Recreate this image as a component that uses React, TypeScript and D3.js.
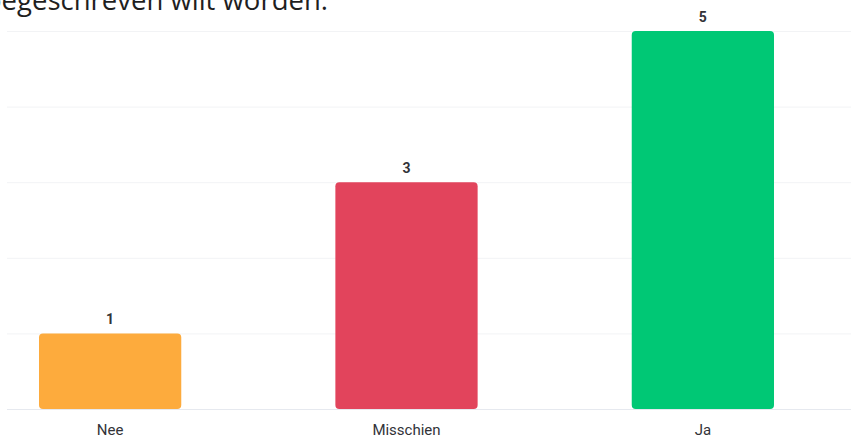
import React from "react";
import * as d3 from "d3";

const categories = ["Nee", "Misschien", "Ja"];
const values = [1, 3, 5];
const colors = ["#fdab3d", "#e2445c", "#00c875"];
const yTicks = [0, 1, 2, 3, 4, 5];
const titleText = "toegeschreven wilt worden.";

const W = 851;
const H = 437;

export default function App() {
  const x = d3.scaleBand<string>().domain(categories).range([39, 774]).paddingInner(0.52).paddingOuter(0);
  const y = d3.scaleLinear().domain([0, 5]).range([409, 31]);
  const font = "Roboto, 'Noto Sans', sans-serif";
  return (
    <svg width={W} height={H} style={{ position: "absolute", left: 0, top: 0, background: "#fff" }}>
      <text x={328} y={10} textAnchor="end" fontFamily="'Open Sans', 'Noto Sans', sans-serif" fontSize={27.5} fill="#1f1f1f">
        {titleText}
      </text>
      {yTicks.map((t) => (
        <line key={t} x1={7} x2={W} y1={y(t) + 0.5} y2={y(t) + 0.5} stroke={t === 0 ? "#e6e9ef" : "#f2f3f5"} strokeWidth={1} />
      ))}
      {categories.map((c, i) => (
        <g key={c}>
          <rect x={x(c)} y={y(values[i])} width={x.bandwidth()} height={y(0) - y(values[i])} rx={4} fill={colors[i]} />
          <text x={(x(c) as number) + x.bandwidth() / 2} y={y(values[i]) - 9.5} textAnchor="middle" fontFamily={font} fontWeight={700} fontSize={14} fill="#323338">
            {values[i]}
          </text>
          <text x={(x(c) as number) + x.bandwidth() / 2} y={435} textAnchor="middle" fontFamily={font} fontSize={15} fill="#323338">
            {c}
          </text>
        </g>
      ))}
    </svg>
  );
}
